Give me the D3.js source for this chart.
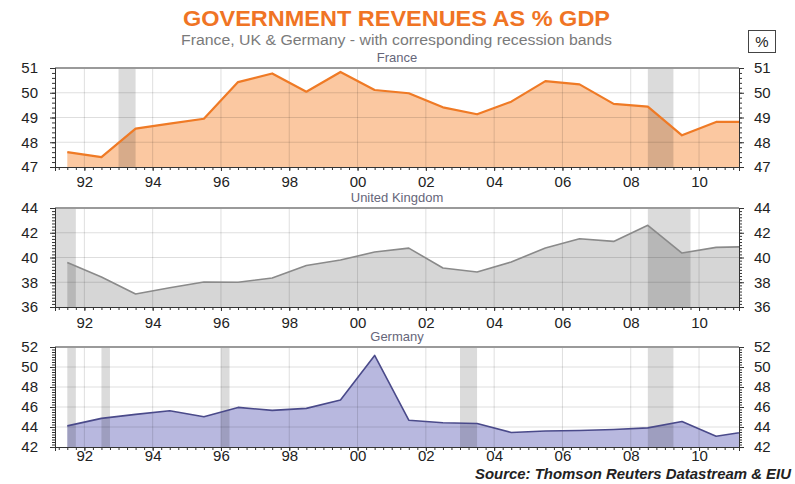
<!DOCTYPE html>
<html>
<head>
<meta charset="utf-8">
<script src="https://cdn.jsdelivr.net/npm/d3@7"></script>
<style>
  body { margin: 0; background: #fff; }
  text { font-family: "Liberation Sans", Arial, sans-serif; }
</style>
</head>
<body>
<div class="chart"></div>
<script>
// mid-year observations
const years = [1991.5, 1992.5, 1993.5, 1994.5, 1995.5, 1996.5, 1997.5, 1998.5, 1999.5, 2000.5,
    2001.5, 2002.5, 2003.5, 2004.5, 2005.5, 2006.5, 2007.5, 2008.5, 2009.5, 2010.5, 2011.5];
const france = [47.6, 47.4, 48.55, 48.75, 48.95, 50.43, 50.78, 50.04, 50.84, 50.11,
    49.98, 49.41, 49.13, 49.64, 50.47, 50.34, 49.55, 49.44, 48.28, 48.82, 48.82];
const uk = [39.6, 38.42, 37.05, 37.55, 38.02, 38.0, 38.34, 39.36, 39.8, 40.44,
    40.76, 39.15, 38.83, 39.64, 40.77, 41.52, 41.3, 42.6, 40.36, 40.82, 40.88];
const germany = [44.11, 44.86, 45.26, 45.62, 45.02, 45.96, 45.66, 45.86, 46.7, 51.16,
    44.68, 44.42, 44.35, 43.45, 43.6, 43.65, 43.75, 43.91, 44.55, 43.07, 43.6];

// recession bands [start, end] in years
const franceBands = [[1993.0, 1993.5], [2008.5, 2009.25]];
const ukBands = [[1990.5, 1991.75], [2008.5, 2009.75]];
const germanyBands = [[1991.5, 1991.75], [1992.5, 1992.75], [1996.0, 1996.25], [2003.0, 2003.5], [2008.5, 2009.25]];

const xTickYears = [1992, 1994, 1996, 1998, 2000, 2002, 2004, 2006, 2008, 2010];
const franceTicks = [47, 48, 49, 50, 51];
const ukTicks = [36, 38, 40, 42, 44];
const germanyTicks = [42, 44, 46, 48, 50, 52];

const W = 795, H = 484;
const left = 55, right = 739;
const xDomain = [1991.14, 2011.17];

const panels = [
    {name: 'France', values: france, bands: franceBands, ticks: franceTicks, minor: 0.2,
        top: 68, bottom: 167, labelGap: 9, fill: '#fbc8a1', stroke: '#ef7a25'},
    {name: 'United Kingdom', values: uk, bands: ukBands, ticks: ukTicks, minor: 0.25,
        top: 208, bottom: 307, labelGap: 10, fill: '#d6d6d6', stroke: '#8a8a8a'},
    {name: 'Germany', values: germany, bands: germanyBands, ticks: germanyTicks, minor: 0.25,
        top: 347, bottom: 447, labelGap: 3, fill: '#b8b8df', stroke: '#4a4a8a'}
];

const svg = d3.select('.chart').append('svg')
    .attr('width', W)
    .attr('height', H);

svg.append('text')
    .attr('x', 183).attr('y', 26)
    .attr('textLength', 427).attr('lengthAdjust', 'spacingAndGlyphs')
    .style('font-size', '22px').style('font-weight', 'bold')
    .attr('fill', '#f07424')
    .text('GOVERNMENT REVENUES AS % GDP');

svg.append('text')
    .attr('x', 181).attr('y', 45)
    .attr('textLength', 431).attr('lengthAdjust', 'spacingAndGlyphs')
    .style('font-size', '14px')
    .attr('fill', '#7a7a7a')
    .text('France, UK & Germany - with corresponding recession bands');

svg.append('rect')
    .attr('x', 748.5).attr('y', 30.5).attr('width', 27).attr('height', 22)
    .attr('fill', '#fff').attr('stroke', '#444');
svg.append('text')
    .attr('x', 762).attr('y', 47)
    .attr('text-anchor', 'middle')
    .style('font-size', '15px')
    .attr('fill', '#222')
    .text('%');

const x = d3.scaleLinear().domain(xDomain).range([left, right]);
const minorX = d3.range(1991.25, 2011.2, 0.25).filter(function(v) { return v >= xDomain[0]; });

panels.forEach(function(p, i) {
    const t = p.ticks;
    const y = d3.scaleLinear().domain([t[0], t[t.length - 1]]).range([p.bottom, p.top]);
    const pts = years.map(function(yr, j) { return {year: yr, v: p.values[j]}; });
    const g = svg.append('g');

    const clipId = 'clip' + i;
    svg.append('clipPath').attr('id', clipId)
        .append('rect')
        .attr('x', left).attr('y', p.top - 2)
        .attr('width', right - left).attr('height', p.bottom - p.top + 2);

    // panel title
    svg.append('text')
        .attr('x', 397).attr('y', p.top - 6)
        .attr('text-anchor', 'middle')
        .style('font-size', '13px')
        .attr('fill', '#66667a')
        .text(p.name);

    const plot = g.append('g').attr('clip-path', 'url(#' + clipId + ')');

    const area = d3.area()
        .x(function(d) { return x(d.year); })
        .y0(p.bottom)
        .y1(function(d) { return y(d.v); });
    const line = d3.line()
        .x(function(d) { return x(d.year); })
        .y(function(d) { return y(d.v); });

    plot.append('path')
        .datum(pts)
        .attr('d', area)
        .attr('fill', p.fill);

    // grid
    plot.selectAll('.hgrid')
        .data(t.slice(1))
        .enter().append('line')
        .attr('x1', left).attr('x2', right)
        .attr('y1', function(d) { return y(d); })
        .attr('y2', function(d) { return y(d); })
        .attr('stroke', '#000').attr('stroke-opacity', 0.13);
    plot.selectAll('.vgrid')
        .data(xTickYears)
        .enter().append('line')
        .attr('x1', function(d) { return x(d); })
        .attr('x2', function(d) { return x(d); })
        .attr('y1', p.top).attr('y2', p.bottom)
        .attr('stroke', '#000').attr('stroke-opacity', 0.13);

    // recession bands
    plot.selectAll('.band')
        .data(p.bands)
        .enter().append('rect')
        .attr('x', function(d) { return x(d[0]); })
        .attr('width', function(d) { return x(d[1]) - x(d[0]); })
        .attr('y', p.top).attr('height', p.bottom - p.top)
        .attr('fill', '#000').attr('fill-opacity', 0.14);

    plot.append('path')
        .datum(pts)
        .attr('d', line)
        .attr('fill', 'none')
        .attr('stroke', p.stroke)
        .attr('stroke-width', i === 0 ? 2.2 : 1.6)
        .attr('stroke-linejoin', 'round');

    // top frame
    g.append('line')
        .attr('x1', left).attr('x2', right)
        .attr('y1', p.top).attr('y2', p.top)
        .attr('stroke', '#9a9a9a').attr('stroke-width', 2);

    // axes
    const minorY = d3.range(t[0], t[t.length - 1] + 1e-6, p.minor);
    const yLeft = d3.axisLeft(y).tickValues(t).tickSize(5).tickFormat(d3.format('d'));
    const yRight = d3.axisRight(y).tickValues(t).tickSize(5).tickFormat(d3.format('d'));
    const yLeftMinor = d3.axisLeft(y).tickValues(minorY).tickSize(3).tickFormat('');
    const yRightMinor = d3.axisRight(y).tickValues(minorY).tickSize(3).tickFormat('');
    const xAxis = d3.axisBottom(x).tickValues(xTickYears).tickSize(4)
        .tickFormat(function(d) { return d3.format('02d')(d % 100); });
    const xMinor = d3.axisBottom(x).tickValues(minorX).tickSize(3).tickFormat('');

    const axes = [
        {axis: yLeftMinor, tr: 'translate(' + left + ',0)'},
        {axis: yRightMinor, tr: 'translate(' + right + ',0)'},
        {axis: yLeft, tr: 'translate(' + left + ',0)', lx: -17},
        {axis: yRight, tr: 'translate(' + right + ',0)', lx: 15},
        {axis: xMinor, tr: 'translate(0,' + p.bottom + ')'},
        {axis: xAxis, tr: 'translate(0,' + p.bottom + ')', ly: p.labelGap}
    ];
    axes.forEach(function(a) {
        const ax = g.append('g').attr('transform', a.tr).call(a.axis);
        ax.select('.domain').attr('stroke', '#333');
        ax.selectAll('.tick line').attr('stroke', '#333');
        const txt = ax.selectAll('text')
            .style('font-size', '15px')
            .attr('fill', '#222');
        if (a.lx !== undefined) txt.attr('x', a.lx);
        if (a.ly !== undefined) txt.attr('y', a.ly);
    });
});

svg.append('text')
    .attr('x', 475).attr('y', 479)
    .attr('textLength', 316).attr('lengthAdjust', 'spacingAndGlyphs')
    .style('font-size', '14px').style('font-weight', 'bold').style('font-style', 'italic')
    .attr('fill', '#222')
    .text('Source: Thomson Reuters Datastream & EIU');
</script>
</body>
</html>
